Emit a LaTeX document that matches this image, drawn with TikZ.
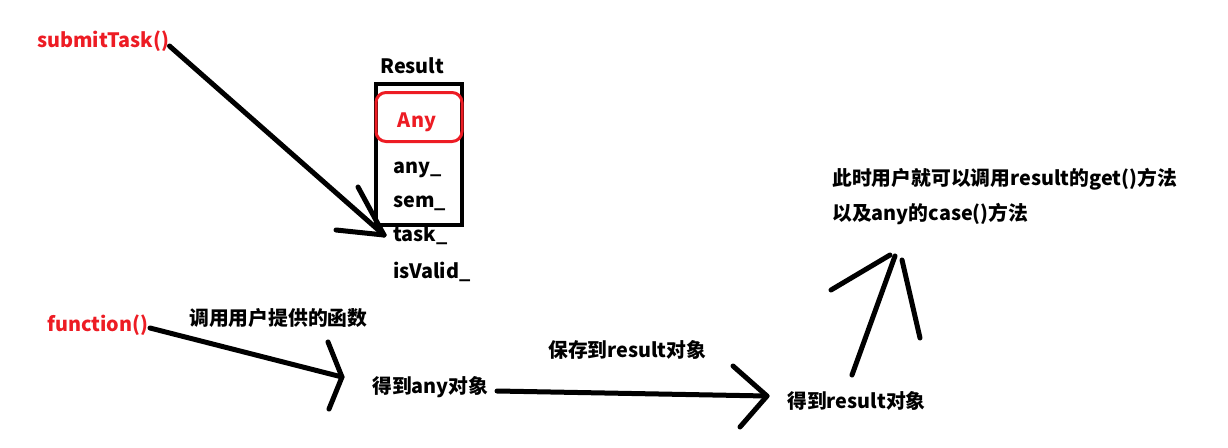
\documentclass[tikz,border=0pt]{standalone}
\usepackage{fontspec}
\setmainfont{Noto Sans CJK SC}
\definecolor{paintred}{HTML}{ED1C24}
\tikzset{
  txt/.style={font=\fontsize{19.8}{23}\selectfont\bfseries, inner sep=0pt, text height=16pt, text depth=4pt, anchor=west},
  red txt/.style={txt, text=paintred},
  stroke/.style={line width=5pt, line cap=round, line join=round, black},
}
\begin{document}
\begin{tikzpicture}[x=1pt,y=-1pt]
\useasboundingbox (0,0) rectangle (1228,447);
% Result box
\node[txt] (result) at (380,67) {Result};
\draw[line width=4pt] (376,84) rectangle (462,225);
\node[draw=paintred, line width=3pt, rounded corners=10pt, minimum width=86pt, minimum height=49pt, inner sep=0pt] (anybox) at (419,117) {};
\node[red txt, anchor=center] (Any) at (417,121) {Any};
\node[txt] (any) at (393,167) {any\_};
\node[txt] (sem) at (393,201) {sem\_};
\node[txt] (task) at (393,235) {task\_};
\node[txt] (valid) at (393,272) {isValid\_};
% submitTask
\node[red txt] (submit) at (37,41) {submitTask()};
\coordinate (t1) at (384,235);
\coordinate (t1a) at (358,187);
\coordinate (t1b) at (336,230);
\draw[stroke] (submit.east) ++(0,5) -- (t1);
\draw[stroke] (t1a) -- (t1);
\draw[stroke] (t1b) -- (t1);
% function
\node[red txt] (func) at (47,325) {function()};
\node[txt] (call) at (189,319) {调用用户提供的函数};
\node[txt] (gotany) at (372,387) {得到any对象};
\coordinate (t2) at (342,377);
\coordinate (t2a) at (328,342);
\coordinate (t2b) at (329,409);
\draw[stroke] (150,328) -- (t2);
\draw[stroke] (t2a) -- (t2) -- (t2b);
% save
\node[txt] (save) at (548,351) {保存到result对象};
\node[txt] (gotres) at (787,402) {得到result对象};
\coordinate (t3) at (767,396);
\coordinate (t3a) at (733,366);
\coordinate (t3b) at (740,427);
\draw[stroke] (497,391) -- (t3);
\draw[stroke] (t3a) -- (t3) -- (t3b);
% up arrow
\node[txt] (note1) at (832,179) {此时用户就可以调用result的get()方法};
\node[txt] (note2) at (832,214) {以及any的case()方法};
\coordinate (t4) at (895,256);
\draw[stroke] (852,375) -- (t4);
\draw[stroke] (831,290) -- (890,255);
\draw[stroke] (902,260) -- (920,338);
\end{tikzpicture}
\end{document}
